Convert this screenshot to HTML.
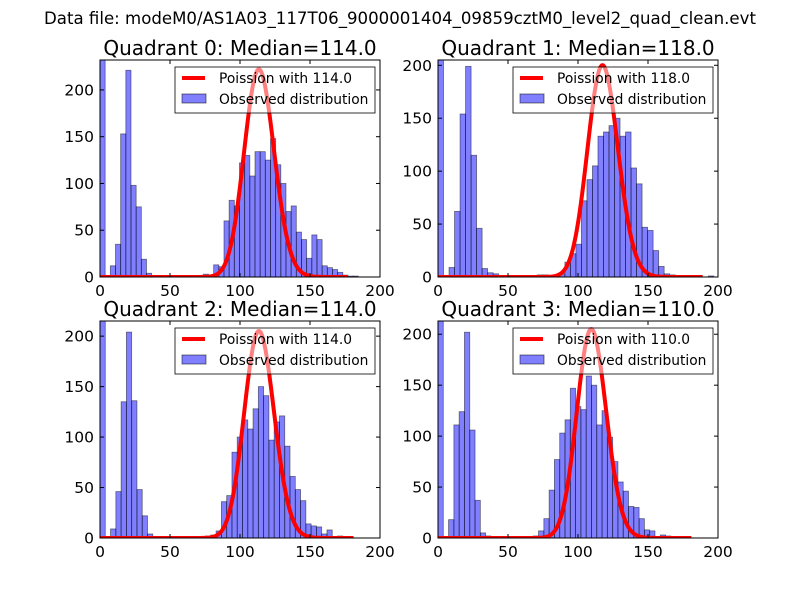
<!DOCTYPE html>
<html><head><meta charset="utf-8"><style>
body{margin:0;background:#fff;}
svg{display:block;font-family:"DejaVu Sans","Liberation Sans",sans-serif;}
</style></head><body>
<svg id="fig" width="800" height="600">
<rect width="800" height="600" fill="#fff"/>
<text x="400" y="24" text-anchor="middle" font-size="16.6">Data file: modeM0/AS1A03_117T06_9000001404_09859cztM0_level2_quad_clean.evt</text>
</svg>
<script>
const quadNames = ["Quadrant 0","Quadrant 1","Quadrant 2","Quadrant 3"];
const medians = [114.0, 118.0, 114.0, 110.0];
const binWidths = [3.69, 3.94, 3.77, 3.78];
const yMaxes = [232, 205, 215, 213];
const curvePeaks = [222, 200, 205, 205];
const xTicks = [0, 50, 100, 150, 200];
const yTicks = [0, 50, 100, 150, 200];
const counts0 = [240,0,12,35,153,221,98,75,19,4,0,0,0,0,0,0,0,0,0,0,3,2,13,11,60,82,76,122,130,108,134,134,125,148,120,100,70,76,48,40,20,45,40,12,10,8,5,2,1,1];
const counts1 = [210,0,9,62,154,199,115,46,8,4,3,0,0,0,0,0,0,0,2,2,0,1,3,14,22,31,72,92,105,133,137,143,150,133,137,103,88,47,44,25,10,3,2,0,0,0,0,0,0,1];
const counts2 = [220,0,9,46,135,204,136,48,22,4,0,0,0,0,0,0,0,0,0,0,2,3,7,36,42,85,100,117,108,128,150,141,97,115,121,91,61,48,37,14,12,11,4,8,0,2,1,1,0,0];
const counts3 = [215,0,18,111,124,202,106,37,5,2,0,0,0,0,0,0,0,1,2,7,19,47,77,103,116,147,129,126,159,150,111,125,99,75,55,46,31,30,19,8,7,0,3,2,0,1,0,0,0,0];
const allCounts = [counts0, counts1, counts2, counts3];

const NS = "http://www.w3.org/2000/svg";
const svg = document.getElementById("fig");
function mk(tag, attrs, parent){const e=document.createElementNS(NS,tag);for(const k in attrs)e.setAttribute(k,attrs[k]);(parent||svg).appendChild(e);return e;}
function lgamma(z){const g=7,c=[0.99999999999980993,676.5203681218851,-1259.1392167224028,771.32342877765313,-176.61502916214059,12.507343278686905,-0.13857109526572012,9.9843695780195716e-6,1.5056327351493116e-7];z-=1;let x=c[0];for(let i=1;i<g+2;i++)x+=c[i]/(z+i);const t=z+g+0.5;return 0.5*Math.log(2*Math.PI)+(z+0.5)*Math.log(t)-t+Math.log(x);}
function poisson(k,m){return Math.exp(k*Math.log(m)-m-lgamma(k+1));}

const boxes = [[100,60,380,277],[438,60,718,277],[100,321,380,538],[438,321,718,538]];
for(let q=0;q<4;q++){
  const [L,T,R,B]=boxes[q];
  const g=mk("g",{});
  
  
  const cid="clip"+q;
  const cp=mk("clipPath",{id:cid},g);mk("rect",{x:L,y:T,width:R-L,height:B-T},cp);
  const xs=v=>L+(v/200)*(R-L);
  const ys=v=>B-(v/yMaxes[q])*(B-T);
  const plot=mk("g",{"clip-path":"url(#"+cid+")"},g);
  const counts=allCounts[q], bw=binWidths[q];
  counts.forEach((c,i)=>{
    if(c<=0)return;
    const r=mk("rect",{x:xs(i*bw),y:ys(c),width:xs(bw)-xs(0),height:ys(0)-ys(c),fill:"rgba(0,0,255,0.5)",stroke:"rgba(0,0,0,0.5)","stroke-width":0.8},plot);
    
    
  });
  const m=medians[q], scale=curvePeaks[q]/poisson(Math.floor(m),m);
  let d="";
  for(let k=0;k<=Math.round(48*bw);k++){d+=(k?"L":"M")+xs(k).toFixed(1)+","+ys(scale*poisson(k,m)).toFixed(1);}
  const p=mk("path",{d:d,fill:"none",stroke:"#f00","stroke-width":4,"stroke-linejoin":"round"},plot);
  
  
  mk("rect",{x:L,y:T,width:R-L,height:B-T,fill:"none",stroke:"#000","stroke-width":1},g);
  xTicks.forEach(t=>{const x=xs(t);
    mk("line",{x1:x,y1:B,x2:x,y2:B-4,stroke:"#000"},g);mk("line",{x1:x,y1:T,x2:x,y2:T+4,stroke:"#000"},g);
    const tx=mk("text",{x:x,y:B+19,"text-anchor":"middle","font-size":15.5},g);tx.textContent=t;
    
    });
  yTicks.forEach(t=>{const y=ys(t);
    mk("line",{x1:L,y1:y,x2:L+4,y2:y,stroke:"#000"},g);mk("line",{x1:R,y1:y,x2:R-4,y2:y,stroke:"#000"},g);
    const tx=mk("text",{x:L-6,y:y+5.5,"text-anchor":"end","font-size":15.5},g);tx.textContent=t;
    
    });
  const ti=mk("text",{x:(L+R)/2,y:T-5,"text-anchor":"middle","font-size":20},g);
  ti.textContent=quadNames[q]+": Median="+m.toFixed(1);
  
  
  const lg=mk("g",{},g);
  
  
  mk("rect",{x:L+75,y:T+7,width:200,height:46,fill:"rgba(255,255,255,0.5)",stroke:"#000","stroke-width":0.8},lg);
  mk("line",{x1:L+82,y1:T+18,x2:L+105,y2:T+18,stroke:"#f00","stroke-width":4},lg);
  const t1=mk("text",{x:L+119,y:T+23,"font-size":13.8},lg);t1.textContent="Poission with "+m.toFixed(1);
  mk("rect",{x:L+82,y:T+34,width:24,height:9,fill:"rgba(0,0,255,0.5)",stroke:"rgba(0,0,0,0.5)"},lg);
  const t2=mk("text",{x:L+119,y:T+44,"font-size":13.8},lg);t2.textContent="Observed distribution";
}
</script>
</body></html>
